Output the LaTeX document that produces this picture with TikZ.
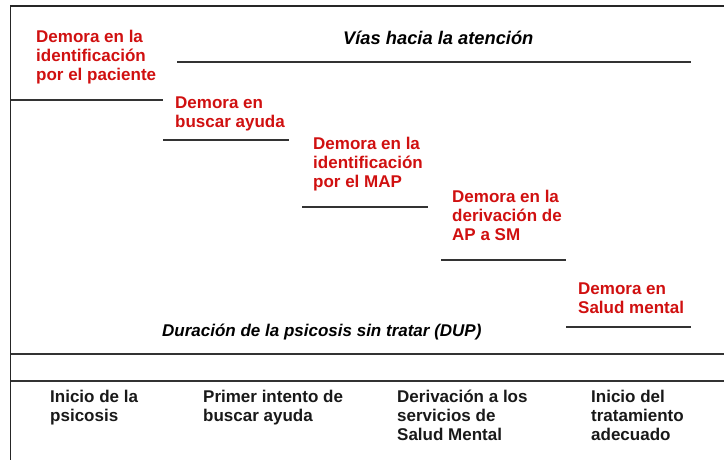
\documentclass[tikz,border=0pt]{standalone}
\usepackage{fontspec}
\setmainfont{Liberation Sans}
\definecolor{rojoDemora}{RGB}{208,16,16}

\begin{document}
\begin{tikzpicture}[
  x=1pt, y=-1pt,
  every node/.style={
    inner sep=0pt,
    anchor=north west,
    align=left,
    font=\fontsize{17}{19}\selectfont\bfseries,
    },
  demora/.style={text=rojoDemora},
  hito/.style={text=black!90},
  titulo/.style={anchor=base west, font=\fontsize{18.3}{21}\selectfont\bfseries\itshape},
  marco/.style={line width=1.6pt, draw=black!85},
  tramo/.style={line width=1.3pt, draw=black!80},
  ]
\useasboundingbox (0,0) rectangle (724,459);
% marco y bandas
\draw[marco] (724,6) -- (10.5,6) -- (10.5,460);
\draw[tramo] (10.5,354) -- (724,354);
\draw[tramo] (10.5,381) -- (724,381);
% escalones
\draw[tramo] (177,62) -- (691,62);
\foreach \xa/\xb/\y in {10.5/163/100, 163/289/140, 302/428/207, 441/566/260, 566/691/327}
  \draw[tramo] (\xa,\y) -- (\xb,\y);
% demoras
\node[demora] (paciente) at (36,30) {Demora en la\\identificación\\por el paciente};
\node[demora] (ayuda) at (175,97) {Demora en\\buscar ayuda};
\node[demora] (map) at (313,137) {Demora en la\\identificación\\por el MAP};
\node[demora] (deriva) at (452,190) {Demora en la\\derivación de\\AP a SM};
\node[demora] (salud) at (578,283) {Demora en\\Salud mental};
% titulos
\node[titulo] (vias) at (343,44) {Vías hacia la atención};
\node[titulo, font=\fontsize{17}{19}\selectfont\bfseries\itshape] (dup) at (162,336) {Duración de la psicosis sin tratar (DUP)};
% hitos
\node[hito] (inicio) at (50,390) {Inicio de la\\psicosis};
\node[hito] (intento) at (203,390) {Primer intento de\\buscar ayuda};
\node[hito] (derivacion) at (397,390) {Derivación a los\\servicios de\\Salud Mental};
\node[hito] (tratamiento) at (591,390) {Inicio del\\tratamiento\\adecuado};
\end{tikzpicture}
\end{document}
